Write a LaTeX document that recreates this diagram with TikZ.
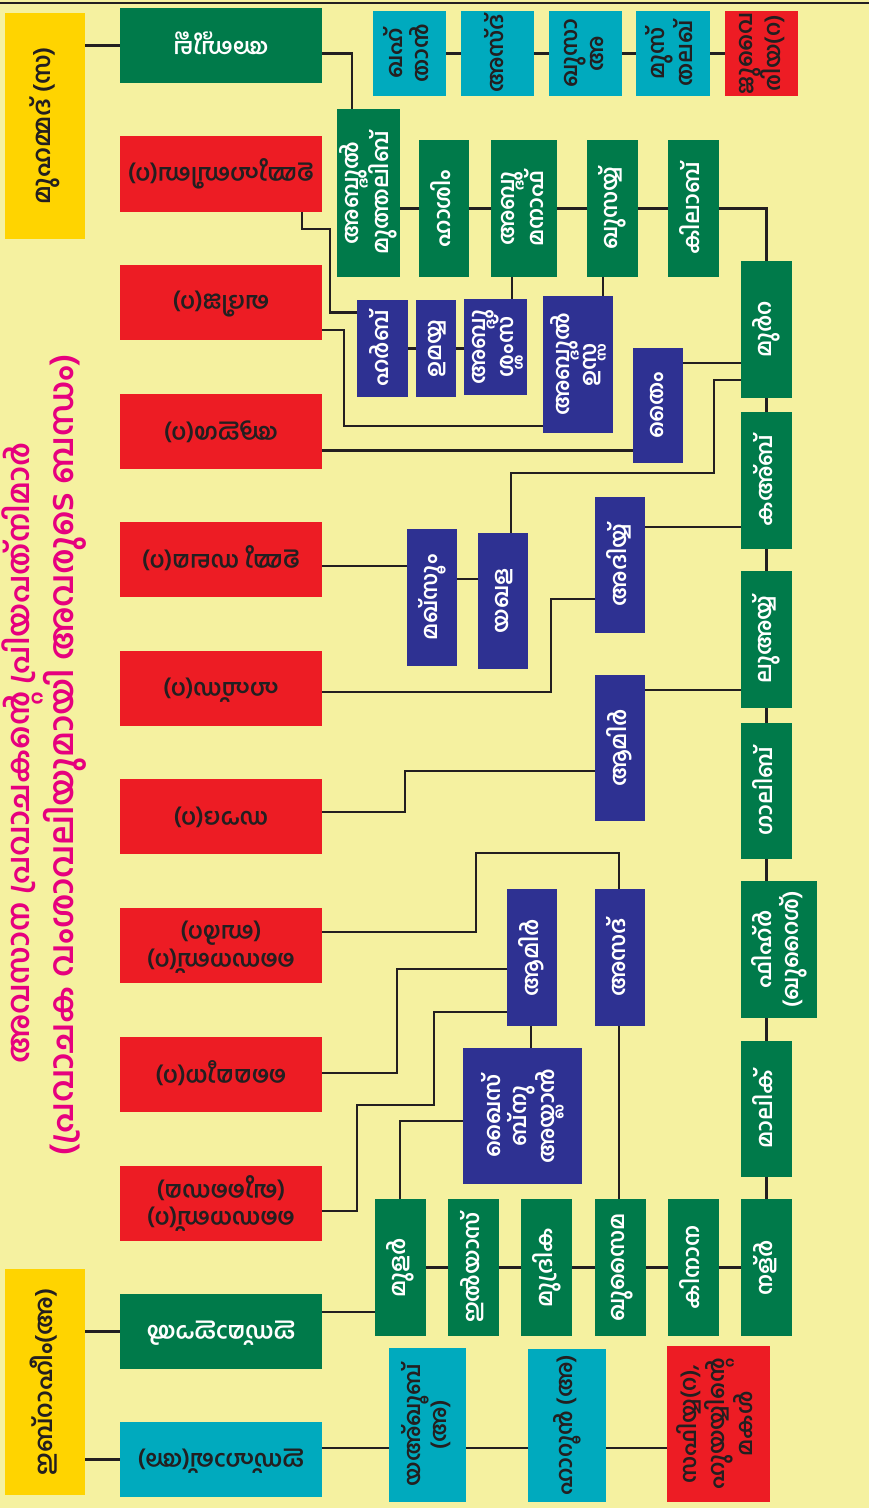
\documentclass[tikz,border=0pt]{standalone}
\usepackage{fontspec}
\setmainfont[Script=Malayalam]{Hind Kochi}
\usepackage{graphicx}
\definecolor{bg}{RGB}{245,241,160}
\definecolor{yel}{RGB}{255,212,0}
\definecolor{grn}{RGB}{0,122,74}
\definecolor{rbox}{RGB}{237,28,36}
\definecolor{tbox}{RGB}{0,170,190}
\definecolor{ind}{RGB}{46,49,146}
\definecolor{pnk}{RGB}{230,0,126}
\definecolor{ink}{RGB}{35,31,32}
\newcommand\vt[1]{\rotatebox{90}{\begin{tabular}{@{}c@{}}#1\end{tabular}}}
\newcommand\ut[1]{\rotatebox{180}{\begin{tabular}{@{}c@{}}#1\end{tabular}}}
\begin{document}
\begin{tikzpicture}[x=1pt,y=-1pt,
  bx/.style={draw=none,inner sep=0pt,outer sep=0pt,anchor=north west,align=center,font=\fontsize{22}{25}\selectfont\bfseries},
  gb/.style={bx,fill=grn,text=white},
  rb/.style={bx,fill=rbox,text=ink,font=\fontsize{23}{27}\selectfont\bfseries},
  tb/.style={bx,fill=tbox,text=ink},
  ib/.style={bx,fill=ind,text=white},
  yb/.style={bx,fill=yel,text=ink,font=\fontsize{24}{27}\selectfont\bfseries},
  ttl/.style={inner sep=0pt,text=pnk,font=\fontsize{30}{34}\selectfont\bfseries},
  ln/.style={draw=ink,line width=2.3pt}]
\useasboundingbox (0,0) rectangle (869,1508);
\fill[bg] (0,0) rectangle (869,1508);
\draw[ink,line width=2.6pt] (0,3) -- (869,3);

% title
\node[ttl] (t1) at (22,753) {\rotatebox{90}{\resizebox{621pt}{!}{അവസാന പ്രവാചകന്റെ പ്രിയപത്നിമാർ}}};
\node[ttl] (t2) at (65,755) {\rotatebox{90}{\resizebox{800pt}{!}{(പ്രവാചക വംശാവലിയുമായി അവരുടെ ബന്ധം)}}};

% yellow
\node[yb,minimum width=80,minimum height=226] (muh) at (5,13) {\vt{മുഹമ്മദ് (സ)}};
\node[yb,minimum width=80,minimum height=226] (ibr) at (5,1269) {\vt{ഇബ്റാഹീം(അ)}};

% left column
\node[gb,minimum width=202,minimum height=75] (abd) at (120,8) {\ut{അബ്ദുല്ല}};
\node[rb,minimum width=202,minimum height=76] (r1) at (120,136) {\ut{ഉമ്മുഹബീബ(റ)}};
\node[rb,minimum width=202,minimum height=75] (r2) at (120,265) {\ut{ഖദീജ(റ)}};
\node[rb,minimum width=202,minimum height=75] (r3) at (120,394) {\ut{ആഇശ(റ)}};
\node[rb,minimum width=202,minimum height=75] (r4) at (120,522) {\ut{ഉമ്മു സലമ(റ)}};
\node[rb,minimum width=202,minimum height=75] (r5) at (120,651) {\ut{ഹഫ്സ(റ)}};
\node[rb,minimum width=202,minimum height=75] (r6) at (120,779) {\ut{സൗദ(റ)}};
\node[rb,minimum width=202,minimum height=75] (r7) at (120,908) {\ut{സൈനബ്(റ)\\(ബർറ)}};
\node[rb,minimum width=202,minimum height=75] (r8) at (120,1037) {\ut{മൈമൂന(റ)}};
\node[rb,minimum width=202,minimum height=75] (r9) at (120,1166) {\ut{സൈനബ്(റ)\\(ഖുസൈമ)}};
\node[gb,minimum width=202,minimum height=75,font=\fontsize{23}{27}\selectfont\bfseries] (ism) at (120,1294) {\ut{ഇസ്മാഈൽ}};
\node[tb,minimum width=202,minimum height=75,font=\fontsize{23}{27}\selectfont\bfseries] (ish) at (120,1422) {\ut{ഇസ്ഹാഖ്(അ)}};

% top teal row
\node[tb,minimum width=73,minimum height=85] (qahtan) at (373,11) {\vt{ഖഹ്\\താൻ}};
\node[tb,minimum width=73,minimum height=85] (azd) at (461,11) {\vt{അസ്ദ്}};
\node[tb,minimum width=73,minimum height=85] (khuzaa) at (549,11) {\vt{ഖുസാ\\അ}};
\node[tb,minimum width=74,minimum height=85] (mustaliq) at (636,11) {\vt{മുസ്\\തലഖ്}};
\node[rb,minimum width=73,minimum height=85,font=\fontsize{22}{25}\selectfont\bfseries] (juw) at (725,11) {\vt{ജുവൈ\\രിയ(റ)}};

% top green row
\node[gb,minimum width=63,minimum height=168] (abdm) at (337,109) {\vt{അബ്ദുൽ\\മുത്തലിബ്}};
\node[gb,minimum width=50,minimum height=137] (hashim) at (419,140) {\vt{ഹാശിം}};
\node[gb,minimum width=66,minimum height=137] (abdmanaf) at (491,140) {\vt{അബ്ദു\\മനാഫ്}};
\node[gb,minimum width=51,minimum height=137] (qusayy) at (587,140) {\vt{ഖുസയ്യ്}};
\node[gb,minimum width=51,minimum height=137] (kilab) at (668,140) {\vt{കിലാബ്}};

% right column
\node[gb,minimum width=51,minimum height=137] (murra) at (741,261) {\vt{മുർറ}};
\node[gb,minimum width=51,minimum height=137] (kaab) at (741,412) {\vt{കഅ്ബ്}};
\node[gb,minimum width=51,minimum height=137] (luayy) at (741,571) {\vt{ലുഅയ്യ്}};
\node[gb,minimum width=51,minimum height=136] (ghalib) at (741,723) {\vt{ഗാലിബ്}};
\node[gb,minimum width=76,minimum height=137] (fihr) at (741,881) {\vt{ഫിഹ്ർ\\(ഖുറൈശ്)}};
\node[gb,minimum width=51,minimum height=136] (malik) at (741,1041) {\vt{മാലിക്}};
\node[gb,minimum width=51,minimum height=137] (nadr) at (741,1199) {\vt{നള്ർ}};

% bottom green row
\node[gb,minimum width=51,minimum height=137] (mudar) at (375,1199) {\vt{മുളർ}};
\node[gb,minimum width=51,minimum height=137] (ilyas) at (448,1199) {\vt{ഇൽയാസ്}};
\node[gb,minimum width=51,minimum height=137] (mudrika) at (521,1199) {\vt{മുദ്രിക}};
\node[gb,minimum width=51,minimum height=137] (khuz) at (595,1199) {\vt{ഖുസൈമ}};
\node[gb,minimum width=51,minimum height=137] (kinana) at (668,1199) {\vt{കിനാന}};

% blue boxes
\node[ib,minimum width=51,minimum height=97] (harb) at (357,300) {\vt{ഹർബ്}};
\node[ib,minimum width=40,minimum height=97] (umayya) at (416,300) {\vt{ഉമയ്യ}};
\node[ib,minimum width=63,minimum height=96] (abdshams) at (464,299) {\vt{അബ്ദു\\ശ്ശംസ്}};
\node[ib,minimum width=70,minimum height=137] (abduzza) at (543,296) {\vt{അബ്ദുൽ\\ഉസ്സ}};
\node[ib,minimum width=50,minimum height=115] (taym) at (633,348) {\vt{തൈം}};
\node[ib,minimum width=50,minimum height=136] (adiyy) at (595,497) {\vt{അദിയ്യ്}};
\node[ib,minimum width=50,minimum height=137] (makhzum) at (407,529) {\vt{മഖ്സൂം}};
\node[ib,minimum width=50,minimum height=136] (yaqaza) at (478,533) {\vt{യഖള}};
\node[ib,minimum width=50,minimum height=146] (amir1) at (595,675) {\vt{ആമിർ}};
\node[ib,minimum width=50,minimum height=137] (asad) at (595,889) {\vt{അസദ്}};
\node[ib,minimum width=50,minimum height=137] (amir2) at (507,889) {\vt{ആമിർ}};
\node[ib,minimum width=119,minimum height=136] (qays) at (463,1048) {\vt{ഖൈസ്\\ബ്നു\\അയ്ലാൻ}};

% bottom row
\node[tb,minimum width=77,minimum height=154] (yaqub) at (389,1348) {\vt{യഅ്ഖൂബ്\\(അ)}};
\node[tb,minimum width=78,minimum height=153] (harun) at (528,1349) {\vt{ഹാറൂൻ (അ)}};
\node[rb,minimum width=103,minimum height=156,font=\fontsize{22}{25}\selectfont\bfseries] (saf) at (667,1346) {\vt{സഫിയ്യ(റ),\\ഹുയയ്യിന്റെ\\മകൾ}};

% connectors
\draw[ln] (muh.east |- abd.west) -- (abd.west);
\draw[ln] ([yshift=-8pt]abd.east) -| ([xshift=15pt]abdm.north west);
\draw[ln] (abdm.east |- hashim.west) -- (hashim.west);
\draw[ln] (hashim.east) -- (abdmanaf.west);
\draw[ln] (abdmanaf.east) -- (qusayy.west);
\draw[ln] (qusayy.east) -- (kilab.west);
\draw[ln] (kilab.east) -| (murra.north);
\draw[ln] (murra.south) -- (kaab.north);
\draw[ln] (kaab.south) -- (luayy.north);
\draw[ln] (luayy.south) -- (ghalib.north);
\draw[ln] (ghalib.south) -- (ghalib.south |- fihr.north);
\draw[ln] (malik.north |- fihr.south) -- (malik.north);
\draw[ln] (malik.south) -- (nadr.north);
\draw[ln] (mudar.east) -- (ilyas.west);
\draw[ln] (ilyas.east) -- (mudrika.west);
\draw[ln] (mudrika.east) -- (khuz.west);
\draw[ln] (khuz.east) -- (kinana.west);
\draw[ln] (kinana.east) -- (nadr.west);
\draw[ln] (qahtan.east) -- (azd.west);
\draw[ln] (azd.east) -- (khuzaa.west);
\draw[ln] (khuzaa.east) -- (mustaliq.west);
\draw[ln] (mustaliq.east) -- (juw.west);
\draw[ln] ([xshift=21pt]abdmanaf.south west) -- ([xshift=21pt]abdmanaf.south west |- abdshams.north);
\draw[ln] (umayya.east) -- (umayya.east -| abdshams.west);
\draw[ln] (harb.east) -- (harb.east -| umayya.west);
\draw[ln] ([xshift=-20pt]r1.south east) -- ++(0,17) -- ++(28,0) |- ([yshift=36pt]harb.west);
\draw[ln] ([xshift=16pt]qusayy.south west) -- ([xshift=16pt]qusayy.south west |- abduzza.north);
\draw[ln] ([yshift=-61.5pt]abduzza.west) -| (344,330) -- ([yshift=-27.5pt]r2.east);
\draw[ln] ([yshift=-45pt]taym.west) -- ([yshift=-45pt]taym.west -| r3.east);
\draw[ln] ([yshift=-33.5pt]murra.west) -- ([yshift=-33.5pt]murra.west -| taym.east);
\draw[ln] ([yshift=-50.5pt]murra.west) -- (714,380) |- (511,473) -- ([xshift=33pt]yaqaza.north west);
\draw[ln] ([yshift=22pt]yaqaza.west) -- ([yshift=22pt]yaqaza.west -| makhzum.east);
\draw[ln] ([yshift=31.5pt]makhzum.west) -- ([yshift=31.5pt]makhzum.west -| r4.east);
\draw[ln] ([yshift=-46.5pt]kaab.west) -- ([yshift=-46.5pt]kaab.west -| adiyy.east);
\draw[ln] ([yshift=-34pt]adiyy.west) -| (551,692) -- ([yshift=-3.5pt]r5.east);
\draw[ln] ([yshift=-50.5pt]luayy.west) -- ([yshift=-50.5pt]luayy.west -| amir1.east);
\draw[ln] ([yshift=-23pt]amir1.west) -| (405,812) -- ([yshift=4.5pt]r6.east);
\draw[ln] ([xshift=24pt]asad.north west) |- (476,853) |- ([yshift=13.5pt]r7.east);
\draw[ln] ([xshift=24pt]asad.south west) -- ([xshift=24pt]asad.south west |- khuz.north);
\draw[ln] ([yshift=-11.5pt]amir2.west) -| (397,1073) -- ([yshift=1.5pt]r8.east);
\draw[ln] ([yshift=-54.5pt]amir2.west) -| (434,1105) -| (357,1211) -- ([yshift=-7.5pt]r9.east);
\draw[ln] ([xshift=24pt]amir2.south west) -- ([xshift=24pt]amir2.south west |- qays.north);
\draw[ln] ([yshift=-5pt]qays.west) -| ([xshift=25pt]mudar.north west);
\draw[ln] ([yshift=-44.5pt]mudar.west) -- ([yshift=-44.5pt]mudar.west -| ism.east);
\draw[ln] (ibr.east |- ism.west) -- (ism.west);
\draw[ln] (ibr.east |- ish.west) -- (ish.west);
\draw[ln] ([yshift=11.5pt]ish.east) -- ([yshift=11.5pt]ish.east -| yaqub.west);
\draw[ln] ([yshift=11.5pt]ish.east -| yaqub.east) -- ([yshift=11.5pt]ish.east -| harun.west);
\draw[ln] ([yshift=11.5pt]ish.east -| harun.east) -- ([yshift=11.5pt]ish.east -| saf.west);
\end{tikzpicture}
\end{document}
